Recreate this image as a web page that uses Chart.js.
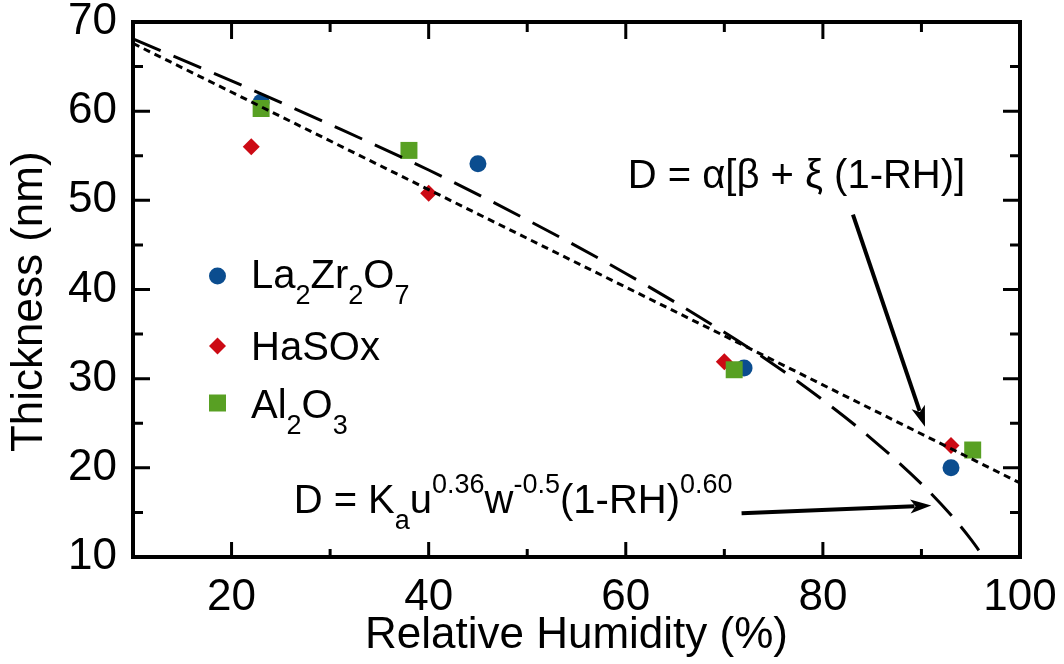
<!DOCTYPE html>
<html><head><meta charset="utf-8">
<script src="https://cdn.jsdelivr.net/npm/chart.js@4/dist/chart.umd.min.js"></script>
<style>html,body{margin:0;padding:0;background:#fff}</style>
</head><body>
<canvas id="c" width="1064" height="664"></canvas>
<script>
// ---- data ----
const laX = [23, 45, 72, 93];
const laY = [61.0, 54.1, 31.2, 20.0];
const haX = [22, 40, 70, 93];
const haY = [56.0, 50.8, 31.9, 22.5];
const alX = [23, 38, 71, 95.2];
const alY = [60.3, 55.6, 31.0, 22.0];
// dashed fit curve (power law)
const powX = [10, 20, 30, 40, 50, 60, 70, 75, 80, 85, 90, 93, 95, 96.5];
const powY = [68.1, 63.4, 58.5, 53.4, 47.8, 41.8, 35.2, 31.6, 27.6, 23.2, 18.2, 14.7, 12.0, 9.7];
// dotted fit line (linear)
const linX = [10, 40, 70, 100];
const linY = [67.6, 51.2, 34.8, 18.3];

const seriesNames = ['La_{2}Zr_{2}O_{7}', 'HaSOx', 'Al_{2}O_{3}'];
const seriesColors = ['#0b4d8f', '#cc0a14', '#58a023'];
const xTickValues = [10, 20, 30, 40, 50, 60, 70, 80, 90, 100];
const xTickLabels = [20, 40, 60, 80, 100];
const yTickValues = [10, 15, 20, 25, 30, 35, 40, 45, 50, 55, 60, 65, 70];
const yTickLabels = [10, 20, 30, 40, 50, 60, 70];
const xTitle = 'Relative Humidity (%)';
const yTitle = 'Thickness (nm)';
const eq1Text = 'D = α[β + ξ (1-RH)]';
const eq2Text = 'D = K_{a}u^{0.36}w^{-0.5}(1-RH)^{0.60}';
// annotation anchors & arrows in data units
const eq1Pos = [60.2, 51.4];
const eq2Pos = [26.3, 14.95];
const arrow1 = [[83.05, 48.4], [90.36, 24.6]];
const arrow2 = [[71.75, 14.92], [91.0, 15.77]];

const FONT = '"Liberation Sans", Arial, Helvetica, sans-serif';
const pts = (xs, ys) => xs.map((v, i) => ({x: v, y: ys[i]}));

function parseRich(s) {
  const out = []; const re = /([_^])\{([^}]*)\}|([^_^]+)/g; let m;
  while ((m = re.exec(s))) {
    if (m[3]) out.push({t: m[3], k: 0});
    else out.push({t: m[2], k: m[1] === '_' ? 1 : -1});
  }
  return out;
}
function drawRich(ctx, s, x, y, main, small) {
  const segs = parseRich(s);
  ctx.textBaseline = 'alphabetic'; ctx.textAlign = 'left';
  for (const g of segs) {
    const size = g.k === 0 ? main : small;
    ctx.font = size + 'px ' + FONT;
    const dy = g.k === 1 ? 16 : (g.k === -1 ? -20 : 0);
    ctx.fillText(g.t, x, y + dy);
    x += ctx.measureText(g.t).width;
  }
}
function drawArrow(ctx, x0, y0, x1, y1) {
  const dx = x1 - x0, dy = y1 - y0, L = Math.hypot(dx, dy);
  const ux = dx / L, uy = dy / L, hl = 21, hw = 7;
  ctx.lineWidth = 4; ctx.lineCap = 'butt';
  ctx.beginPath(); ctx.moveTo(x0, y0); ctx.lineTo(x1 - ux * hl * 0.8, y1 - uy * hl * 0.8); ctx.stroke();
  ctx.beginPath();
  ctx.moveTo(x1, y1);
  ctx.lineTo(x1 - ux * hl - uy * hw, y1 - uy * hl + ux * hw);
  ctx.lineTo(x1 - ux * hl * 0.75, y1 - uy * hl * 0.75);
  ctx.lineTo(x1 - ux * hl + uy * hw, y1 - uy * hl - ux * hw);
  ctx.closePath(); ctx.fill();
}

const deco = {
  id: 'deco',
  afterDatasetsDraw(chart) {
    const {ctx, chartArea: a, scales: {x, y}} = chart;
    ctx.save();
    ctx.strokeStyle = '#000'; ctx.fillStyle = '#000';
    // frame
    ctx.lineWidth = 4;
    ctx.strokeRect(a.left, a.top, a.right - a.left, a.bottom - a.top);
    // inward ticks
    ctx.lineWidth = 3;
    xTickValues.forEach(v => {
      if (v === x.min || v === x.max) return;
      const px = x.getPixelForValue(v), maj = xTickLabels.includes(v);
      ctx.beginPath();
      ctx.moveTo(px, a.bottom); ctx.lineTo(px, a.bottom - (maj ? 15 : 8));
      ctx.moveTo(px, a.top); ctx.lineTo(px, a.top + (maj ? 17 : 10));
      ctx.stroke();
    });
    yTickValues.forEach(v => {
      if (v === y.min || v === y.max) return;
      const py = y.getPixelForValue(v), maj = yTickLabels.includes(v);
      ctx.beginPath();
      ctx.moveTo(a.left, py); ctx.lineTo(a.left + (maj ? 17 : 10), py);
      ctx.moveTo(a.right, py); ctx.lineTo(a.right - (maj ? 17 : 10), py);
      ctx.stroke();
    });
    // legend
    const lx = a.left + 84.5, tx = a.left + 118;
    const rows = [[276, 288], [346, 359.5], [403, 417.5]];
    const shapes = ['circle', 'rectRot', 'rect'];
    rows.forEach((r, i) => {
      ctx.fillStyle = seriesColors[i];
      ctx.beginPath();
      if (shapes[i] === 'circle') ctx.arc(lx, r[0], 8.5, 0, Math.PI * 2);
      else if (shapes[i] === 'rectRot') { ctx.moveTo(lx, r[0] - 8.5); ctx.lineTo(lx + 8.5, r[0]); ctx.lineTo(lx, r[0] + 8.5); ctx.lineTo(lx - 8.5, r[0]); ctx.closePath(); }
      else ctx.rect(lx - 8.5, r[0] - 8.5, 17, 17);
      ctx.fill();
      ctx.fillStyle = '#000';
      drawRich(ctx, seriesNames[i], tx, r[1], 40, 27);
    });
    // equations
    drawRich(ctx, eq1Text, x.getPixelForValue(eq1Pos[0]), y.getPixelForValue(eq1Pos[1]), 40, 27);
    drawRich(ctx, eq2Text, x.getPixelForValue(eq2Pos[0]), y.getPixelForValue(eq2Pos[1]), 40, 27);
    // arrows
    [arrow1, arrow2].forEach(ar => drawArrow(ctx,
      x.getPixelForValue(ar[0][0]), y.getPixelForValue(ar[0][1]),
      x.getPixelForValue(ar[1][0]), y.getPixelForValue(ar[1][1])));
    ctx.restore();
  }
};

const mk = (name, xs, ys, i, style, r, order) => ({
  label: name, data: pts(xs, ys), showLine: false, order,
  pointStyle: style, pointRadius: r, pointHoverRadius: r,
  backgroundColor: seriesColors[i], borderColor: seriesColors[i], pointBorderWidth: 0
});

new Chart(document.getElementById('c'), {
  type: 'scatter',
  data: {
    datasets: [
      {label: 'power', data: pts(powX, powY), showLine: true, pointRadius: 0, borderColor: '#000',
       borderWidth: 3, borderDash: [30, 14], cubicInterpolationMode: 'monotone', order: 0, fill: false},
      {label: 'linear', data: pts(linX, linY), showLine: true, pointRadius: 0, borderColor: '#000',
       borderWidth: 3, borderDash: [7, 5], order: 0, fill: false},
      mk(seriesNames[2], alX, alY, 2, 'rect', 12, 1),
      mk(seriesNames[1], haX, haY, 1, 'rectRot', 8.5, 2),
      mk(seriesNames[0], laX, laY, 0, 'circle', 8.5, 3)
    ]
  },
  options: {
    responsive: false, animation: false, devicePixelRatio: 1,
    layout: {padding: {left: 0, right: 44, top: 22, bottom: 0}},
    plugins: {legend: {display: false}, tooltip: {enabled: false}},
    scales: {
      x: {
        type: 'linear', min: 10, max: 100,
        grid: {display: false, drawTicks: false}, border: {display: false},
        ticks: {stepSize: 10, autoSkip: false, maxRotation: 0, padding: 14, color: '#000',
          font: {family: FONT, size: 44, lineHeight: 1.2},
          callback: v => xTickLabels.includes(v) ? String(v) : ''},
        title: {display: true, text: xTitle, color: '#000', padding: {top: 0, bottom: 2},
          font: {family: FONT, size: 44, lineHeight: 1.2}},
        afterFit: s => { s.height = 107; s.paddingLeft = 0; s.paddingRight = 0; }
      },
      y: {
        type: 'linear', min: 10, max: 70,
        grid: {display: false, drawTicks: false}, border: {display: false},
        ticks: {stepSize: 10, padding: 16, color: '#000',
          font: {family: FONT, size: 44, lineHeight: 1.2},
          callback: v => yTickLabels.includes(v) ? String(v) : ''},
        title: {display: true, text: yTitle + '  ', color: '#000', padding: {top: 3, bottom: 0},
          font: {family: FONT, size: 44, lineHeight: 1.2}},
        afterFit: s => { s.width = 133; s.paddingTop = 0; s.paddingBottom = 0; }
      }
    }
  },
  plugins: [deco]
});
</script>
</body></html>
